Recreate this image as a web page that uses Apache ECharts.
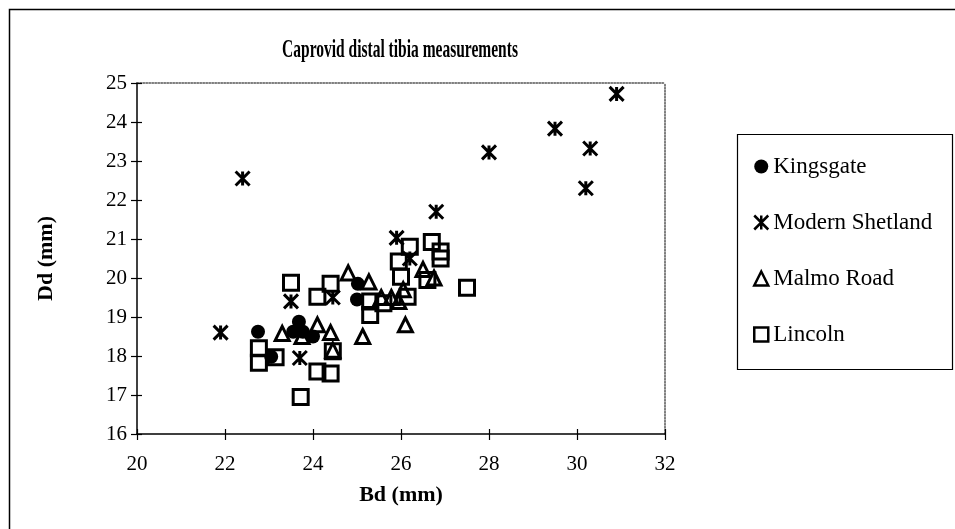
<!DOCTYPE html>
<html>
<head>
<meta charset="utf-8">
<script src="https://cdn.jsdelivr.net/npm/echarts@6/dist/echarts.min.js"></script>
<style>
  html, body { margin: 0; padding: 0; background: #fff; }
  #chart { width: 955px; height: 529px; }
</style>
</head>
<body>
<div id="chart"></div>
<script>
// Bd (mm), Dd (mm)
var kingsgate = [
  [22.75, 18.62], [23.05, 17.98], [23.68, 18.88], [23.55, 18.62],
  [23.77, 18.62], [24.0, 18.5], [25.02, 19.85], [25.0, 19.45]
]
var modernShetland = [
  [21.9, 18.6], [22.4, 22.55], [23.5, 19.4], [23.7, 17.95], [24.45, 19.5],
  [25.9, 21.03], [26.2, 20.5], [26.8, 21.7], [28.0, 23.22], [29.5, 23.83],
  [30.3, 23.32], [30.2, 22.3], [30.9, 24.72]
]
var malmoRoad = [
  [23.3, 18.58], [23.75, 18.5], [24.1, 18.8], [24.4, 18.6], [24.45, 18.15],
  [24.8, 20.13], [25.13, 18.5], [25.27, 19.9], [25.55, 19.5], [25.78, 19.5],
  [25.95, 19.4], [26.05, 19.7], [26.1, 18.8], [26.5, 20.22], [26.75, 20.0]
]
var lincoln = [
  [22.77, 18.2], [22.77, 17.83], [23.15, 17.97], [23.5, 19.88], [24.1, 19.52],
  [24.4, 19.85], [24.45, 18.12], [24.1, 17.6], [24.4, 17.55], [23.72, 16.95],
  [25.3, 19.4], [25.3, 19.05], [25.6, 19.35], [25.95, 20.42], [26.2, 20.8],
  [26.0, 20.03], [26.15, 19.52], [26.7, 20.92], [26.9, 20.68], [26.9, 20.5],
  [26.6, 19.95], [27.5, 19.75]
]
var seriesNames = ['Kingsgate', 'Modern Shetland', 'Malmo Road', 'Lincoln']

var serif = "'Liberation Serif', 'Times New Roman', serif"
var myChart = echarts.init(document.getElementById('chart'))

// same range on every axis (the extra ones only draw ticks / frame)
function xAx(extra) {
  return Object.assign({
    type: 'value', min: 20, max: 32, interval: 2,
    splitLine: {show: false}
  }, extra)
}
function yAx(extra) {
  return Object.assign({
    type: 'value', min: 16, max: 25, interval: 1,
    splitLine: {show: false}
  }, extra)
}

var hollow = {color: 'rgba(0,0,0,0)', borderColor: '#000', borderWidth: 3, opacity: 1}

var option = {
  backgroundColor: '#fff',
  animation: false,
  grid: {left: 137, top: 83, width: 528, height: 351},
  graphic: [
    { // outer frame
      type: 'rect', left: 7, top: 7,
      shape: {width: 970, height: 560},
      style: {fill: 'none', stroke: '#000', lineWidth: 1.5}
    },
    { // legend box
      type: 'rect', left: 735, top: 132,
      shape: {width: 215, height: 235},
      style: {fill: 'none', stroke: '#000', lineWidth: 1.2}
    },
    {
      type: 'text', x: 400, y: 51, scaleX: 0.62,
      style: {
        text: 'Caprovid distal tibia measurements',
        font: 'bold 25px ' + serif,
        fill: '#000', align: 'center', verticalAlign: 'middle'
      }
    }
  ],
  legend: {
    orient: 'vertical', left: 748, top: 150,
    itemWidth: 14, itemHeight: 14, itemGap: 33,
    itemStyle: {borderWidth: 2.5},
    textStyle: {fontFamily: serif, fontSize: 23, color: '#000'},
    data: seriesNames
  },
  xAxis: [
    xAx({
      position: 'bottom',
      name: 'Bd (mm)', nameLocation: 'middle', nameGap: 50,
      nameTextStyle: {fontFamily: serif, fontSize: 22, fontWeight: 'bold', color: '#000'},
      axisLine: {lineStyle: {color: '#000', width: 1.5}},
      axisTick: {inside: false, length: 6, lineStyle: {color: '#000', width: 1.2}},
      axisLabel: {fontFamily: serif, fontSize: 21, color: '#000', margin: 20}
    }),
    xAx({
      position: 'bottom',
      axisLine: {show: false},
      axisTick: {inside: true, length: 5, lineStyle: {color: '#000', width: 1.2}},
      axisLabel: {show: false}
    }),
    xAx({
      position: 'top',
      axisLine: {lineStyle: {color: '#555', width: 1.5, type: 'dotted'}},
      axisTick: {show: false},
      axisLabel: {show: false}
    })
  ],
  yAxis: [
    yAx({
      position: 'left',
      name: 'Dd (mm)', nameLocation: 'middle', nameGap: 80, nameRotate: 90,
      nameTextStyle: {fontFamily: serif, fontSize: 22, fontWeight: 'bold', color: '#000'},
      axisLine: {lineStyle: {color: '#000', width: 1.5}},
      axisTick: {inside: false, length: 6, lineStyle: {color: '#000', width: 1.2}},
      axisLabel: {fontFamily: serif, fontSize: 21, color: '#000', margin: 10}
    }),
    yAx({
      position: 'left',
      axisLine: {show: false},
      axisTick: {inside: true, length: 5, lineStyle: {color: '#000', width: 1.2}},
      axisLabel: {show: false}
    }),
    yAx({
      position: 'right',
      axisLine: {lineStyle: {color: '#555', width: 1.5, type: 'dotted'}},
      axisTick: {show: false},
      axisLabel: {show: false}
    })
  ],
  series: [
    {
      name: seriesNames[0], type: 'scatter', symbol: 'circle', symbolSize: 14,
      itemStyle: {color: '#000', opacity: 1},
      data: kingsgate
    },
    {
      name: seriesNames[1], type: 'scatter',
      symbol: 'path://M0,0L10,10M10,0L0,10M5,0L5,10', symbolSize: 14,
      itemStyle: hollow,
      data: modernShetland
    },
    {
      name: seriesNames[2], type: 'scatter', symbol: 'triangle', symbolSize: 14,
      itemStyle: hollow,
      data: malmoRoad
    },
    {
      name: seriesNames[3], type: 'scatter', symbol: 'rect', symbolSize: 15,
      itemStyle: hollow,
      data: lincoln
    }
  ]
}

myChart.setOption(option)
</script>
</body>
</html>
